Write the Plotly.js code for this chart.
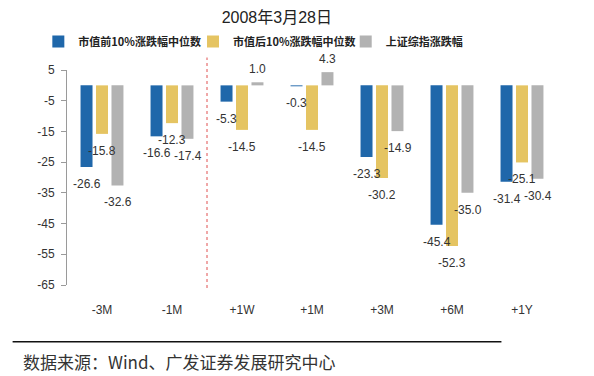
<!DOCTYPE html>
<html>
<head>
<meta charset="utf-8">
<script src="https://cdn.plot.ly/plotly-3.0.1.min.js"></script>
<style>html,body{margin:0;padding:0;background:#fff;}#chart{width:594px;height:376px;}</style>
</head>
<body>
<div id="chart"></div>
<script>
const categories = ['-3M', '-1M', '+1W', '+1M', '+3M', '+6M', '+1Y'];
const seriesNames = ['市值前10%涨跌幅中位数', '市值后10%涨跌幅中位数', '上证综指涨跌幅'];
const topCap = [-26.6, -16.6, -5.3, -0.3, -23.3, -45.4, -31.4];
const bottomCap = [-15.8, -12.3, -14.5, -14.5, -30.2, -52.3, -25.1];
const shIndex = [-32.6, -17.4, 1.0, 4.3, -14.9, -35.0, -30.4];
const yTicks = [5, -5, -15, -25, -35, -45, -55, -65];

const colors = ['#1F67AA', '#E5C462', '#B2B2B2'];
const seriesVals = [topCap, bottomCap, shIndex];
const xShifts = [-15.5, 0, 15.5];
const legendIds = ['legend', 'legend2', 'legend3'];
const legendX = [-0.0585, 0.2572, 0.5688];

const traces = seriesVals.map((vals, i) => ({
  type: 'bar',
  name: seriesNames[i],
  legend: legendIds[i],
  x: categories,
  y: vals,
  marker: {color: colors[i]},
  hoverinfo: 'none'
}));

const annotations = [];
seriesVals.forEach((vals, i) => {
  vals.forEach((v, j) => {
    annotations.push({
      x: categories[j], y: v, xref: 'x', yref: 'y',
      text: v.toFixed(1), showarrow: false,
      xshift: xShifts[i], yshift: v >= 0 ? 13 : -17,
      font: {family: 'Liberation Sans, Arial, sans-serif', size: 12, color: '#333'}
    });
  });
});
annotations.push({
  xref: 'paper', yref: 'paper', x: -0.093, y: -0.355, xanchor: 'left', yanchor: 'middle',
  text: '数据来源：Wind、广发证券发展研究中心', showarrow: false,
  font: {family: 'Noto Sans CJK SC, sans-serif', size: 17, color: '#333'}
});

const legendBase = (x) => ({
  orientation: 'h', x: x, xanchor: 'left', y: 1.2, yanchor: 'top',
  font: {family: 'Noto Sans CJK SC, sans-serif', size: 11, color: '#222', weight: 'bold'},
  itemwidth: 30, bgcolor: 'rgba(0,0,0,0)'
});

const layout = {
  width: 594, height: 376,
  margin: {l: 66.7, r: 37, t: 69.5, b: 91, pad: 0},
  paper_bgcolor: '#fff', plot_bgcolor: '#fff',
  title: {text: '2008年3月28日', x: 0.466, xanchor: 'center', y: 0.955, yanchor: 'middle',
    font: {family: 'Liberation Sans, Noto Sans CJK SC, sans-serif', size: 16, color: '#222'}},
  barmode: 'group', bargap: 0.337, bargroupgap: 0.226,
  showlegend: true,
  legend: legendBase(legendX[0]),
  legend2: legendBase(legendX[1]),
  legend3: legendBase(legendX[2]),
  xaxis: {type: 'category', range: [-0.5, 6.5], showline: false, showgrid: false, zeroline: false,
    ticks: '', tickfont: {family: 'Liberation Sans, Arial, sans-serif', size: 12, color: '#333'},
    ticklabelstandoff: 16},
  xaxis2: {overlaying: 'x', anchor: 'free', position: 65/70, type: 'linear', range: [-0.5, 6.5],
    showline: true, linecolor: '#9a9a9a', linewidth: 1, showgrid: false, zeroline: false,
    ticks: 'outside', ticklen: 4, tickcolor: '#9a9a9a', tickvals: [-0.5, 0.5, 1.5, 2.5, 3.5, 4.5, 5.5, 6.5],
    showticklabels: false},
  yaxis: {range: [-65, 5], tickvals: yTicks, ticktext: yTicks.map(String), showline: true, linecolor: '#9a9a9a',
    linewidth: 1, ticks: 'outside', ticklen: 5, tickcolor: '#9a9a9a', showgrid: false, zeroline: false,
    ticklabelstandoff: 4,
    tickfont: {family: 'Liberation Sans, Arial, sans-serif', size: 12, color: '#333'}},
  shapes: [
    {type: 'line', xref: 'x', yref: 'paper', x0: 1.5, x1: 1.5, y0: -0.014, y1: 1.058,
      line: {color: '#E05050', width: 1, dash: 'dot'}},
    {type: 'line', xref: 'paper', yref: 'paper', x0: -0.111, x1: 0.8866, y0: -0.2645, y1: -0.2645,
      line: {color: '#111', width: 1.5}}
  ],
  annotations: annotations
};

Plotly.newPlot('chart', traces, layout, {displayModeBar: false, staticPlot: true});
</script>
</body>
</html>
